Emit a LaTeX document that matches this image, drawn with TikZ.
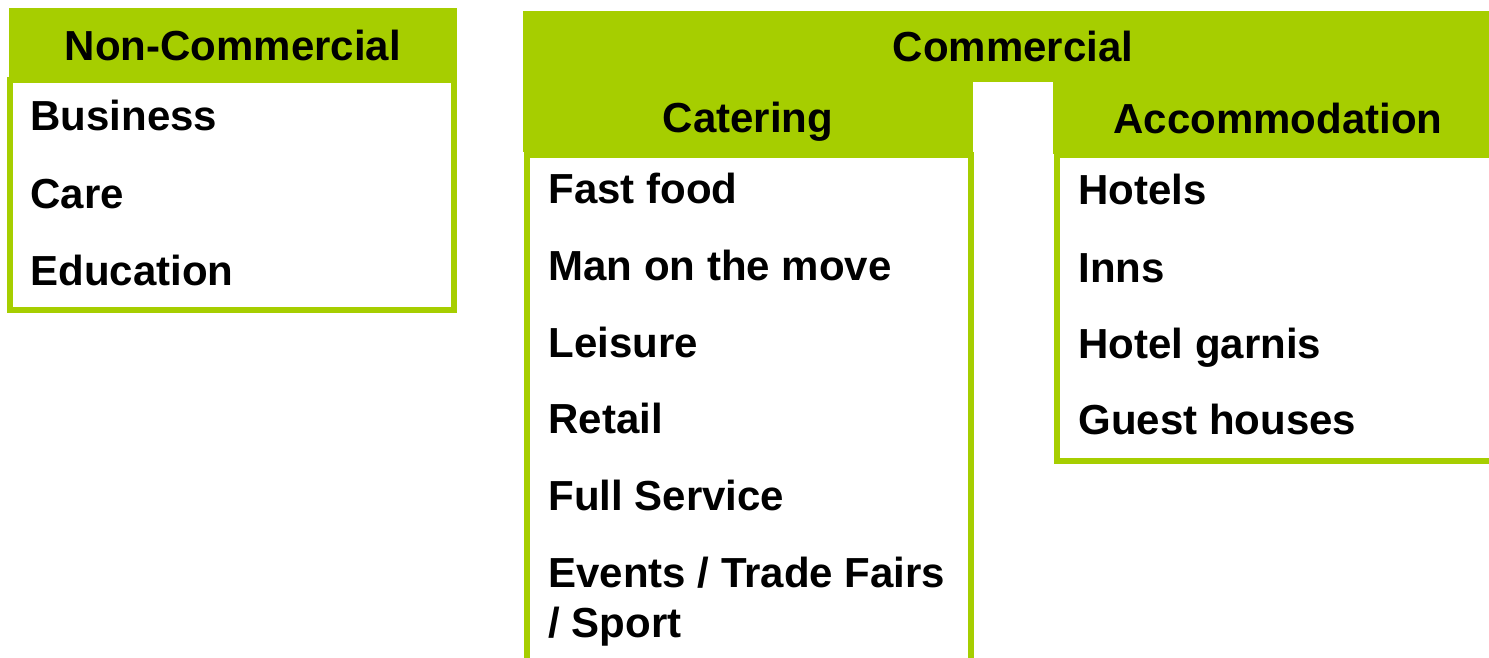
\documentclass[tikz,border=0pt]{standalone}
\usepackage{fontspec}
\setmainfont{Liberation Sans}
\usepackage{tikz}
\usepackage{xcolor}
\definecolor{leafgreen}{HTML}{A6CE00}

\tikzset{
  header/.style={fill=leafgreen, inner sep=0pt, text height=15.5pt, text depth=0pt,
    font=\fontsize{21}{25}\selectfont\bfseries},
  listbox/.style={draw=leafgreen, line width=3pt, fill=white, inner sep=0pt},
  item/.style={anchor=base west, inner sep=0pt, align=left,
    font=\fontsize{21}{25}\selectfont\bfseries}
}

\begin{document}
\begin{tikzpicture}[x=0.5pt, y=-0.5pt]
  \useasboundingbox (0,0) rectangle (1489,658);
  \clip (0,0) rectangle (1489,658);
  % === VENSTRE: Non-Commercial ===
  \node[header, minimum width=224pt, minimum height=37.5pt] (hdrNonCom) at (233,45.5) {Non-Commercial};
  \node[listbox, minimum width=222pt, minimum height=115pt] (boxNonCom) at (232,195) {};
  \node[item] (ncBusiness) at (30,131) {Business};
  \node[item] (ncCare) at (30,208) {Care};
  \node[item] (ncEducation) at (30,285) {Education};
  % === HØYRE: Commercial med to kolonner ===
  \node[header, minimum width=490pt, minimum height=35.5pt] (hdrCom) at (1013,46.5) {Commercial};
  \node[header, minimum width=225pt, minimum height=35pt] (hdrCatering) at (748,117) {Catering};
  \node[header, minimum width=225pt, minimum height=36pt] (hdrAccom) at (1278,118) {Accommodation};
  % Catering-listen (går ut nederst)
  \node[listbox, minimum width=222pt, minimum height=282.5pt] (boxCatering) at (749,437.5) {};
  \node[item] (catFast) at (548,203) {Fast food};
  \node[item] (catMove) at (548,280) {Man on the move};
  \node[item] (catLeisure) at (548,357) {Leisure};
  \node[item] (catRetail) at (548,433) {Retail};
  \node[item] (catFull) at (548,510) {Full Service};
  % to linjer: base = siste linje
  \node[item] (catEvents) at (548,637) {Events / Trade Fairs\\/ Sport};
  % Accommodation-listen (går ut til høyre)
  \node[listbox, minimum width=231.5pt, minimum height=153pt] (boxAccom) at (1288.5,308) {};
  \node[item] (accHotels) at (1078,205) {Hotels};
  \node[item] (accInns) at (1078,282) {Inns};
  \node[item] (accGarni) at (1078,358) {Hotel garnis};
  \node[item] (accGuest) at (1078,434) {Guest houses};
\end{tikzpicture}
\end{document}
